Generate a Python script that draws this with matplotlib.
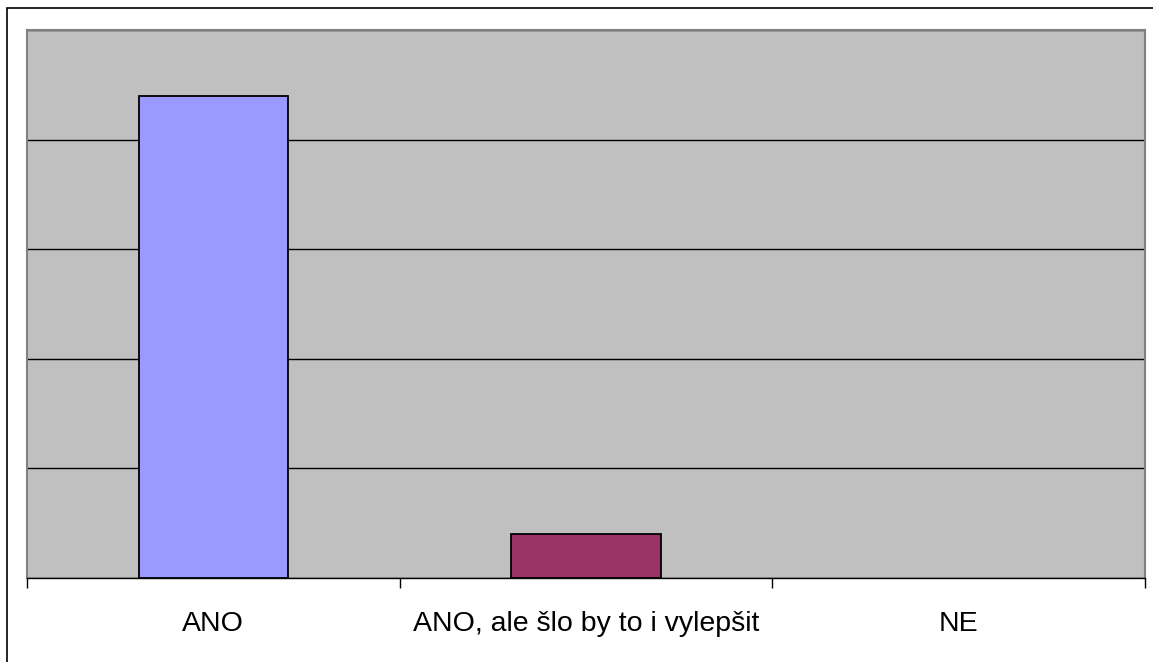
import numpy as np
import matplotlib.pyplot as plt
from matplotlib.patches import Rectangle

categories = ['ANO', 'ANO, ale šlo by to i vylepšit', 'NE']
values = [44, 4, 0]
bar_colors = ['#9999FF', '#993366', '#FFFFCC']

plt.rcParams['font.family'] = ['Liberation Sans', 'DejaVu Sans']

W, H = 1153, 662
fig = plt.figure(figsize=(W / 100, H / 100), dpi=100)
ax = fig.add_axes([27 / W, (H - 578) / H, (1145 - 27) / W, (578 - 30) / H])

x = np.arange(len(categories))
# nulova hodnota se nekresli vubec (ani obrys)
lw = [1.3 if v > 0 else 0 for v in values]
ax.bar(x, values, width=0.4, color=bar_colors, edgecolor='black', linewidth=lw, zorder=3)

ax.set_facecolor('#C0C0C0')
ax.set_xlim(-0.5, len(categories) - 0.5)
ax.set_ylim(0, 50)
ax.set_yticks(np.arange(0, 51, 10))
ax.yaxis.grid(True, color='black', linewidth=1.0, zorder=1)
ax.tick_params(axis='y', left=False, labelleft=False)

# kategorie popisky uprostred, carky na hranicich
ax.set_xticks(x)
ax.set_xticklabels(categories, fontsize=20.5)
ax.tick_params(axis='x', which='major', length=0, pad=24)
ax.set_xticks(np.arange(-0.5, len(categories), 1), minor=True)
ax.tick_params(axis='x', which='minor', length=7, width=1, color='black')

for s in ['top', 'left', 'right']:
    ax.spines[s].set_color('#808080')
    ax.spines[s].set_linewidth(1.5)
ax.spines['bottom'].set_color('black')
ax.spines['bottom'].set_linewidth(1.0)

# vnejsi ramecek grafu (orezany vpravo a dole)
fig.add_artist(Rectangle((7 / W, -0.1), 1.2, (H - 8) / H + 0.1, transform=fig.transFigure,
                         fill=False, edgecolor='black', linewidth=1.2))

fig.savefig('out.png', dpi=100)
